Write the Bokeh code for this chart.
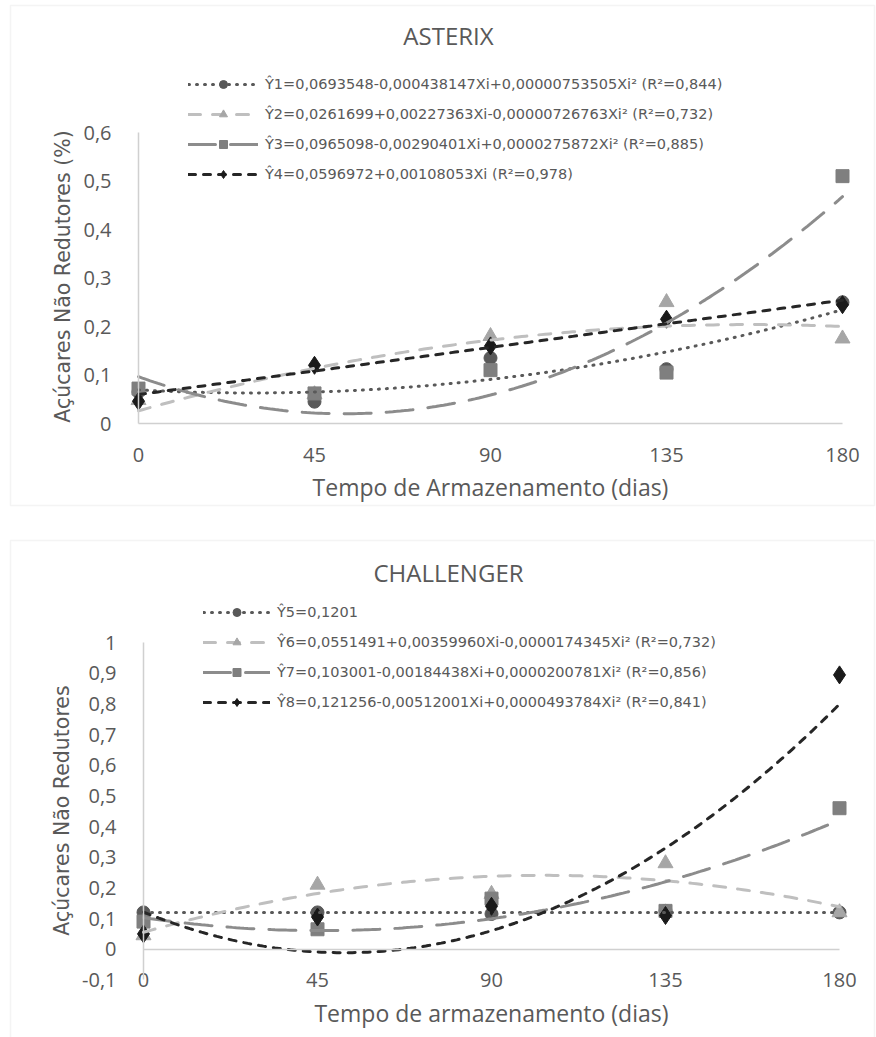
import numpy as np
from bokeh.plotting import figure
from bokeh.models import (Range1d, FixedTicker, Legend, LegendItem, Label,
                          BoxAnnotation)
from bokeh.layouts import column
from bokeh.embed import file_html
from bokeh.resources import INLINE

# ---------------- data ----------------
days = [0, 45, 90, 135, 180]
x_ticks = [0, 45, 90, 135, 180]

# ASTERIX
asterix_y1 = [0.065, 0.045, 0.135, 0.112, 0.250]
asterix_y2 = [0.048, 0.060, 0.180, 0.250, 0.175]
asterix_y3 = [0.072, 0.062, 0.110, 0.105, 0.510]
asterix_y4 = [0.046, 0.120, 0.160, 0.215, 0.245]
asterix_coef_y1 = [0.0693548, -0.000438147, 0.00000753505]
asterix_coef_y2 = [0.0261699, 0.00227363, -0.00000726763]
asterix_coef_y3 = [0.0965098, -0.00290401, 0.0000275872]
asterix_coef_y4 = [0.0596972, 0.00108053, 0.0]
asterix_labels = [
    "Ŷ1=0,0693548-0,000438147Xi+0,00000753505Xi² (R²=0,844)",
    "Ŷ2=0,0261699+0,00227363Xi-0,00000726763Xi² (R²=0,732)",
    "Ŷ3=0,0965098-0,00290401Xi+0,0000275872Xi² (R²=0,885)",
    "Ŷ4=0,0596972+0,00108053Xi (R²=0,978)",
]
asterix_y_ticks = [0, 0.1, 0.2, 0.3, 0.4, 0.5, 0.6]
asterix_y_tick_labels = ["0", "0,1", "0,2", "0,3", "0,4", "0,5", "0,6"]

# CHALLENGER
challenger_y5 = [0.120, 0.120, 0.115, 0.125, 0.120]
challenger_y6 = [0.045, 0.210, 0.180, 0.280, 0.120]
challenger_y7 = [0.090, 0.065, 0.165, 0.125, 0.460]
challenger_y8 = [0.050, 0.105, 0.140, 0.110, 0.895]
challenger_coef_y5 = [0.1201, 0.0, 0.0]
challenger_coef_y6 = [0.0551491, 0.00359960, -0.0000174345]
challenger_coef_y7 = [0.103001, -0.00184438, 0.0000200781]
challenger_coef_y8 = [0.121256, -0.00512001, 0.0000493784]
challenger_labels = [
    "Ŷ5=0,1201",
    "Ŷ6=0,0551491+0,00359960Xi-0,0000174345Xi² (R²=0,732)",
    "Ŷ7=0,103001-0,00184438Xi+0,0000200781Xi² (R²=0,856)",
    "Ŷ8=0,121256-0,00512001Xi+0,0000493784Xi² (R²=0,841)",
]
challenger_y_ticks = [-0.1, 0, 0.1, 0.2, 0.3, 0.4, 0.5, 0.6, 0.7, 0.8, 0.9, 1]
challenger_y_tick_labels = ["-0,1", "0", "0,1", "0,2", "0,3", "0,4", "0,5",
                            "0,6", "0,7", "0,8", "0,9", "1"]

# ---------------- styles ----------------
STYLES = [
    dict(marker="circle", mcolor="#595959", size=13, lcolor="#595959", dash="1 7"),
    dict(marker="triangle", mcolor="#A6A6A6", size=15, lcolor="#BFBFBF", dash="12 12"),
    dict(marker="square", mcolor="#7F7F7F", size=13, lcolor="#8C8C8C", dash="27 15"),
    dict(marker="diamond", mcolor="#1A1A1A", size=18, lcolor="#262626", dash="7 8"),
]
TXT = "#595959"
AXIS = "#D0D0D0"
W = 876


def make_chart(H, x0_px, x180_px, y0_px, px_per_unit, series, coefs, labels,
               y_ticks, y_tick_labels, y_bounds, title, title_y, ytitle, ytitle_xy,
               xtitle, legend_left, legend_top, legend_glyph_w, box):
    # the frame covers the whole canvas; axes sit at fixed data locations
    ppx = (x180_px - x0_px) / 180.0
    x_start = -x0_px / ppx
    x_end = 180 + (W - x180_px) / ppx
    y_start = -(H - y0_px) / px_per_unit
    y_end = y0_px / px_per_unit
    p = figure(width=W, height=H, output_backend="svg", toolbar_location=None,
               x_range=Range1d(x_start, x_end), y_range=Range1d(y_start, y_end),
               min_border=0, min_border_left=0, min_border_right=0,
               min_border_top=0, min_border_bottom=0,
               background_fill_color="white", border_fill_color="white")
    p.outline_line_color = None
    p.xgrid.visible = False
    p.ygrid.visible = False

    # axes
    p.xaxis.ticker = FixedTicker(ticks=x_ticks)
    p.yaxis.ticker = FixedTicker(ticks=y_ticks)
    p.yaxis.major_label_overrides = dict(zip(y_ticks, y_tick_labels))
    p.xaxis.fixed_location = 0
    p.yaxis.fixed_location = 0
    p.xaxis.bounds = (0, 180)
    p.yaxis.bounds = y_bounds
    for ax in (p.xaxis[0], p.yaxis[0]):
        ax.axis_line_color = AXIS
        ax.axis_line_width = 1.5
        ax.major_tick_line_color = None
        ax.minor_tick_line_color = None
        ax.major_label_text_font = "Open Sans"
        ax.major_label_text_font_size = "20px"
        ax.major_label_text_color = TXT
    p.yaxis.major_label_standoff = 21
    p.xaxis.major_label_standoff = 18
    p.xaxis.axis_label = xtitle
    p.xaxis.axis_label_text_font = "Open Sans"
    p.xaxis.axis_label_text_font_size = "23px"
    p.xaxis.axis_label_text_font_style = "normal"
    p.xaxis.axis_label_text_color = TXT
    p.xaxis.axis_label_standoff = 6

    # markers
    scat = []
    for ys, st in zip(series, STYLES):
        r = p.scatter(days, ys, marker=st["marker"], size=st["size"],
                      fill_color=st["mcolor"], line_color=st["mcolor"])
        scat.append(r)
    # trend lines (from the regression equations printed in the legend)
    xs = np.linspace(0, 180, 181)
    lines = []
    for c, st in zip(coefs, STYLES):
        yy = c[0] + c[1] * xs + c[2] * xs ** 2
        r = p.line(xs, yy, line_color=st["lcolor"], line_width=3,
                   line_dash=st["dash"], line_cap="round")
        lines.append(r)

    items = [LegendItem(label=lab, renderers=[ln, sc])
             for lab, ln, sc in zip(labels, lines, scat)]
    n = len(items)
    leg_h = n * 20 + (n - 1) * 10
    leg = Legend(items=items, location=(legend_left, H - (legend_top + leg_h)),
                 orientation="vertical",
                 glyph_width=legend_glyph_w, glyph_height=20, label_height=20,
                 spacing=10, padding=0, margin=0, label_standoff=7,
                 border_line_alpha=0, background_fill_alpha=0,
                 label_text_font="DejaVu Sans", label_text_font_size="14.5px",
                 label_text_color=TXT)
    p.add_layout(leg)

    p.add_layout(Label(x=448, y=title_y, x_units="canvas", y_units="canvas",
                       text=title, text_align="center", text_baseline="middle",
                       text_font="Open Sans", text_font_size="24px",
                       text_color=TXT))
    p.add_layout(Label(x=ytitle_xy[0], y=ytitle_xy[1], x_units="canvas",
                       y_units="canvas", text=ytitle, angle=np.pi / 2,
                       text_align="center", text_baseline="middle",
                       text_font="DejaVu Sans", text_font_size="20.5px",
                       text_color=TXT))
    p.add_layout(BoxAnnotation(left=box[0], right=box[1], top=box[2], bottom=box[3],
                               left_units="canvas", right_units="canvas",
                               top_units="canvas", bottom_units="canvas",
                               fill_alpha=0, line_color="#D9D9D9", line_width=1.5))
    return p


p1 = make_chart(
    H=515, x0_px=138, x180_px=842, y0_px=423, px_per_unit=485,
    series=[asterix_y1, asterix_y2, asterix_y3, asterix_y4],
    coefs=[asterix_coef_y1, asterix_coef_y2, asterix_coef_y3, asterix_coef_y4],
    labels=asterix_labels, y_ticks=asterix_y_ticks,
    y_tick_labels=asterix_y_tick_labels, y_bounds=(0, 0.6),
    title="ASTERIX", title_y=35, ytitle="Açúcares Não Redutores (%)",
    ytitle_xy=(62, 276), xtitle="Tempo de Armazenamento (dias)",
    legend_left=188, legend_top=74, legend_glyph_w=70,
    box=(10, 874, 5, 505))

p2 = make_chart(
    H=522, x0_px=143, x180_px=839, y0_px=948.7 - 515, px_per_unit=306.5,
    series=[challenger_y5, challenger_y6, challenger_y7, challenger_y8],
    coefs=[challenger_coef_y5, challenger_coef_y6, challenger_coef_y7,
           challenger_coef_y8],
    labels=challenger_labels, y_ticks=challenger_y_ticks,
    y_tick_labels=challenger_y_tick_labels, y_bounds=(-0.1, 1),
    title="CHALLENGER", title_y=572 - 515, ytitle="Açúcares Não Redutores",
    ytitle_xy=(61, 810 - 515), xtitle="Tempo de armazenamento (dias)",
    legend_left=203, legend_top=602 - 515, legend_glyph_w=67,
    box=(10, 874, 540 - 515, 540))

layout = column(p1, p2, spacing=0)
open("out.html", "w").write(file_html(layout, INLINE))
